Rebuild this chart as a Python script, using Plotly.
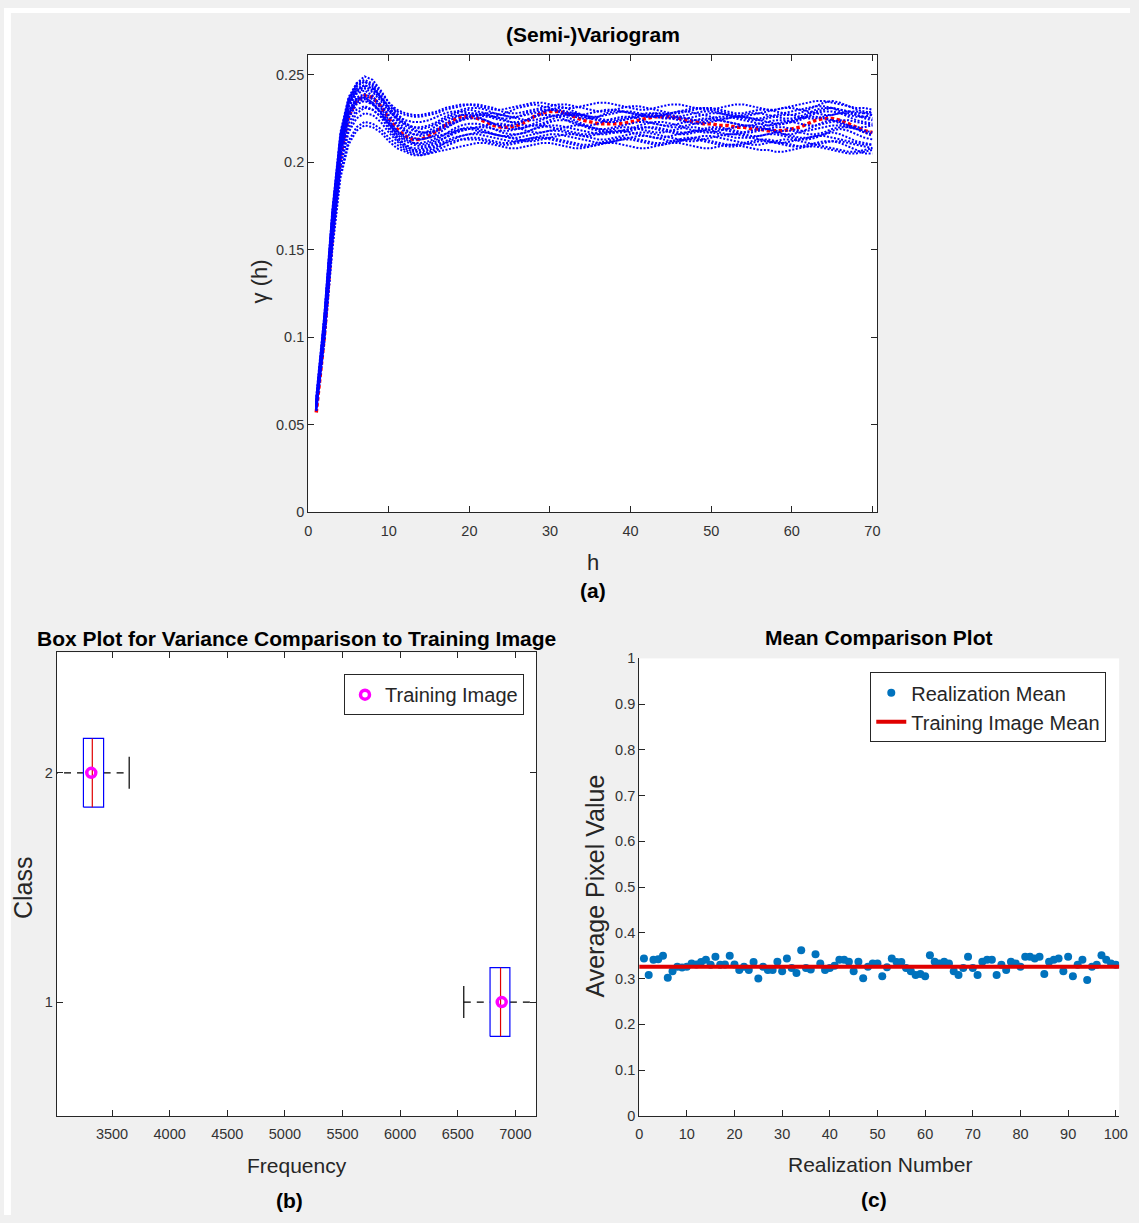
import plotly.graph_objects as go

W, H = 1139, 1223
FONT = "Liberation Sans, Arial, sans-serif"

# ---------------- (a) variogram data ----------------
lag_h = list(range(1, 71))
ti_gamma = [0.057, 0.100, 0.158, 0.203, 0.226, 0.235, 0.238, 0.237, 0.232,
            0.225, 0.219, 0.215, 0.213, 0.213, 0.215, 0.218, 0.221, 0.224, 0.226, 0.226,
            0.225, 0.223, 0.221, 0.220, 0.220, 0.221, 0.223, 0.226, 0.228, 0.229,
            0.229, 0.228, 0.226, 0.224, 0.223, 0.222, 0.222, 0.222, 0.222, 0.223,
            0.224, 0.225, 0.226, 0.226, 0.226, 0.225, 0.224, 0.223, 0.222, 0.222,
            0.221, 0.221, 0.220, 0.220, 0.219, 0.219, 0.218, 0.218, 0.218, 0.219,
            0.220, 0.222, 0.224, 0.225, 0.225, 0.224, 0.222, 0.220, 0.218, 0.217]

real_a = [0.062, 0.108, 0.168, 0.212, 0.232, 0.240, 0.242, 0.240, 0.235,
          0.229, 0.225, 0.222, 0.220, 0.220, 0.221, 0.223, 0.226, 0.228, 0.230, 0.231,
          0.231, 0.230, 0.228, 0.227, 0.226, 0.226, 0.227, 0.228, 0.229, 0.230,
          0.230, 0.229, 0.228, 0.227, 0.226, 0.226, 0.227, 0.228, 0.229, 0.229,
          0.228, 0.227, 0.226, 0.225, 0.225, 0.226, 0.227, 0.228, 0.229, 0.229,
          0.228, 0.227, 0.226, 0.226, 0.227, 0.228, 0.229, 0.230, 0.231, 0.231,
          0.230, 0.229, 0.228, 0.227, 0.227, 0.228, 0.229, 0.229, 0.228, 0.227]
real_b = [0.060, 0.104, 0.163, 0.207, 0.228, 0.236, 0.238, 0.236, 0.231,
          0.224, 0.218, 0.214, 0.211, 0.210, 0.211, 0.213, 0.216, 0.219, 0.221, 0.222,
          0.222, 0.221, 0.219, 0.217, 0.216, 0.216, 0.217, 0.219, 0.221, 0.223,
          0.224, 0.224, 0.223, 0.221, 0.219, 0.218, 0.217, 0.217, 0.218, 0.219,
          0.221, 0.222, 0.223, 0.223, 0.222, 0.221, 0.219, 0.218, 0.217, 0.217,
          0.218, 0.219, 0.220, 0.221, 0.221, 0.220, 0.219, 0.217, 0.216, 0.216,
          0.217, 0.219, 0.221, 0.223, 0.224, 0.223, 0.221, 0.219, 0.217, 0.216]
real_c = [0.065, 0.112, 0.172, 0.216, 0.236, 0.244, 0.246, 0.243, 0.237,
          0.232, 0.229, 0.227, 0.226, 0.226, 0.227, 0.228, 0.230, 0.231, 0.232, 0.233,
          0.233, 0.232, 0.231, 0.229, 0.228, 0.228, 0.229, 0.230, 0.231, 0.232,
          0.233, 0.233, 0.232, 0.231, 0.230, 0.229, 0.229, 0.230, 0.231, 0.232,
          0.232, 0.231, 0.230, 0.229, 0.228, 0.228, 0.229, 0.230, 0.231, 0.231,
          0.230, 0.229, 0.228, 0.228, 0.229, 0.230, 0.230, 0.229, 0.228, 0.227,
          0.228, 0.230, 0.232, 0.234, 0.235, 0.234, 0.232, 0.230, 0.229, 0.228]
real_d = [0.059, 0.101, 0.158, 0.201, 0.222, 0.230, 0.232, 0.230, 0.226,
          0.222, 0.215, 0.210, 0.207, 0.205, 0.206, 0.208, 0.211, 0.213, 0.215, 0.216,
          0.216, 0.215, 0.214, 0.213, 0.212, 0.212, 0.213, 0.214, 0.215, 0.216,
          0.216, 0.215, 0.214, 0.213, 0.212, 0.211, 0.211, 0.212, 0.213, 0.214,
          0.215, 0.215, 0.214, 0.213, 0.212, 0.212, 0.213, 0.214, 0.215, 0.215,
          0.214, 0.213, 0.212, 0.211, 0.210, 0.210, 0.211, 0.212, 0.213, 0.213,
          0.212, 0.211, 0.210, 0.209, 0.208, 0.207, 0.206, 0.206, 0.207, 0.208]
real_e = [0.063, 0.110, 0.170, 0.214, 0.234, 0.242, 0.244, 0.242, 0.238,
          0.230, 0.224, 0.219, 0.216, 0.215, 0.216, 0.218, 0.221, 0.223, 0.225, 0.226,
          0.227, 0.227, 0.226, 0.225, 0.223, 0.222, 0.221, 0.221, 0.222, 0.224,
          0.226, 0.227, 0.227, 0.226, 0.225, 0.224, 0.223, 0.223, 0.224, 0.225,
          0.226, 0.227, 0.227, 0.226, 0.225, 0.224, 0.223, 0.222, 0.222, 0.223,
          0.224, 0.225, 0.226, 0.226, 0.225, 0.224, 0.223, 0.222, 0.222, 0.223,
          0.224, 0.226, 0.228, 0.229, 0.229, 0.228, 0.226, 0.224, 0.223, 0.222]
real_f = [0.061, 0.106, 0.165, 0.209, 0.229, 0.236, 0.237, 0.234, 0.228,
          0.222, 0.216, 0.212, 0.210, 0.209, 0.210, 0.212, 0.214, 0.216, 0.218, 0.219,
          0.220, 0.220, 0.219, 0.218, 0.218, 0.219, 0.220, 0.221, 0.221, 0.220,
          0.219, 0.218, 0.217, 0.216, 0.216, 0.217, 0.218, 0.219, 0.220, 0.220,
          0.219, 0.218, 0.217, 0.217, 0.218, 0.219, 0.220, 0.220, 0.219, 0.218,
          0.217, 0.216, 0.216, 0.217, 0.218, 0.219, 0.219, 0.218, 0.216, 0.215,
          0.214, 0.214, 0.215, 0.216, 0.217, 0.216, 0.214, 0.212, 0.211, 0.210]
real_g = [0.064, 0.111, 0.171, 0.215, 0.235, 0.245, 0.249, 0.247, 0.241,
          0.234, 0.228, 0.223, 0.219, 0.217, 0.217, 0.219, 0.222, 0.225, 0.227, 0.228,
          0.228, 0.227, 0.225, 0.224, 0.223, 0.223, 0.224, 0.226, 0.228, 0.230,
          0.231, 0.231, 0.229, 0.227, 0.225, 0.224, 0.223, 0.223, 0.224, 0.225,
          0.226, 0.227, 0.228, 0.228, 0.227, 0.226, 0.225, 0.224, 0.224, 0.225,
          0.226, 0.226, 0.225, 0.224, 0.223, 0.222, 0.221, 0.221, 0.222, 0.223,
          0.225, 0.227, 0.229, 0.230, 0.231, 0.230, 0.229, 0.227, 0.225, 0.224]
real_h = [0.058, 0.098, 0.152, 0.194, 0.212, 0.220, 0.223, 0.222, 0.219,
          0.214, 0.210, 0.207, 0.205, 0.204, 0.205, 0.207, 0.209, 0.211, 0.213, 0.214,
          0.214, 0.213, 0.212, 0.211, 0.211, 0.212, 0.213, 0.214, 0.214, 0.213,
          0.212, 0.211, 0.210, 0.209, 0.209, 0.210, 0.211, 0.212, 0.213, 0.213,
          0.212, 0.211, 0.210, 0.210, 0.211, 0.212, 0.213, 0.213, 0.212, 0.211,
          0.210, 0.209, 0.209, 0.210, 0.211, 0.212, 0.212, 0.211, 0.210, 0.209,
          0.209, 0.210, 0.211, 0.212, 0.212, 0.211, 0.209, 0.207, 0.205, 0.205]
real_i = [0.062, 0.107, 0.166, 0.210, 0.231, 0.239, 0.241, 0.238, 0.232,
          0.226, 0.221, 0.217, 0.214, 0.213, 0.214, 0.216, 0.219, 0.222, 0.224, 0.225,
          0.225, 0.224, 0.222, 0.220, 0.219, 0.219, 0.220, 0.222, 0.224, 0.226,
          0.227, 0.226, 0.224, 0.222, 0.220, 0.219, 0.219, 0.220, 0.221, 0.222,
          0.223, 0.223, 0.222, 0.221, 0.220, 0.220, 0.221, 0.222, 0.223, 0.224,
          0.224, 0.223, 0.222, 0.221, 0.220, 0.220, 0.221, 0.222, 0.223, 0.224,
          0.225, 0.226, 0.226, 0.225, 0.224, 0.222, 0.221, 0.220, 0.220, 0.221]
real_j = [0.060, 0.103, 0.161, 0.205, 0.226, 0.234, 0.236, 0.233, 0.228,
          0.220, 0.214, 0.210, 0.208, 0.208, 0.209, 0.211, 0.214, 0.217, 0.219, 0.220,
          0.219, 0.218, 0.216, 0.215, 0.214, 0.214, 0.215, 0.216, 0.217, 0.218,
          0.218, 0.217, 0.216, 0.215, 0.215, 0.216, 0.217, 0.218, 0.218, 0.217,
          0.216, 0.215, 0.214, 0.214, 0.215, 0.216, 0.217, 0.218, 0.218, 0.217,
          0.216, 0.215, 0.214, 0.214, 0.214, 0.215, 0.216, 0.216, 0.215, 0.214,
          0.213, 0.213, 0.214, 0.216, 0.218, 0.219, 0.218, 0.216, 0.214, 0.213]
real_k = [0.063, 0.109, 0.169, 0.213, 0.233, 0.241, 0.243, 0.241, 0.236,
          0.231, 0.227, 0.224, 0.223, 0.223, 0.224, 0.226, 0.228, 0.229, 0.229, 0.228,
          0.227, 0.226, 0.226, 0.227, 0.229, 0.231, 0.232, 0.233, 0.232, 0.231,
          0.229, 0.228, 0.227, 0.227, 0.228, 0.229, 0.230, 0.230, 0.229, 0.228,
          0.227, 0.226, 0.226, 0.227, 0.228, 0.229, 0.230, 0.231, 0.231, 0.230,
          0.229, 0.228, 0.227, 0.226, 0.225, 0.225, 0.226, 0.227, 0.228, 0.229,
          0.230, 0.231, 0.232, 0.232, 0.231, 0.230, 0.229, 0.228, 0.228, 0.229]
real_l = [0.059, 0.100, 0.156, 0.199, 0.219, 0.228, 0.231, 0.230, 0.226,
          0.219, 0.213, 0.209, 0.207, 0.207, 0.208, 0.210, 0.212, 0.214, 0.215, 0.216,
          0.217, 0.217, 0.216, 0.215, 0.214, 0.213, 0.212, 0.212, 0.213, 0.214,
          0.215, 0.216, 0.216, 0.215, 0.214, 0.213, 0.213, 0.214, 0.215, 0.216,
          0.217, 0.217, 0.216, 0.215, 0.214, 0.213, 0.212, 0.212, 0.213, 0.214,
          0.215, 0.216, 0.216, 0.215, 0.214, 0.213, 0.212, 0.211, 0.211, 0.212,
          0.213, 0.214, 0.215, 0.215, 0.214, 0.213, 0.212, 0.211, 0.210, 0.210]
real_m = [0.061, 0.105, 0.164, 0.208, 0.229, 0.237, 0.239, 0.237, 0.233,
          0.227, 0.222, 0.218, 0.216, 0.216, 0.218, 0.221, 0.224, 0.226, 0.227, 0.227,
          0.226, 0.224, 0.222, 0.221, 0.221, 0.222, 0.224, 0.226, 0.227, 0.227,
          0.226, 0.224, 0.222, 0.221, 0.221, 0.222, 0.224, 0.225, 0.226, 0.226,
          0.225, 0.223, 0.222, 0.221, 0.221, 0.222, 0.223, 0.224, 0.225, 0.225,
          0.224, 0.223, 0.222, 0.221, 0.221, 0.222, 0.223, 0.224, 0.224, 0.223,
          0.222, 0.221, 0.221, 0.222, 0.223, 0.224, 0.224, 0.223, 0.222, 0.221]
real_n = [0.060, 0.103, 0.160, 0.204, 0.225, 0.233, 0.235, 0.233, 0.229,
          0.223, 0.218, 0.215, 0.213, 0.213, 0.214, 0.215, 0.216, 0.217, 0.218, 0.219,
          0.220, 0.221, 0.222, 0.222, 0.221, 0.220, 0.218, 0.217, 0.217, 0.218,
          0.219, 0.220, 0.221, 0.221, 0.220, 0.219, 0.218, 0.217, 0.217, 0.218,
          0.219, 0.220, 0.220, 0.219, 0.218, 0.217, 0.217, 0.218, 0.219, 0.220,
          0.220, 0.219, 0.218, 0.217, 0.217, 0.218, 0.219, 0.220, 0.220, 0.219,
          0.218, 0.218, 0.219, 0.220, 0.221, 0.221, 0.220, 0.219, 0.218, 0.217]
real_o = [0.066, 0.113, 0.173, 0.217, 0.237, 0.245, 0.247, 0.245, 0.240,
          0.234, 0.230, 0.228, 0.227, 0.227, 0.228, 0.229, 0.231, 0.232, 0.233, 0.233,
          0.232, 0.231, 0.230, 0.230, 0.231, 0.232, 0.233, 0.234, 0.234, 0.233,
          0.232, 0.231, 0.231, 0.232, 0.233, 0.234, 0.234, 0.233, 0.232, 0.231,
          0.230, 0.230, 0.231, 0.232, 0.233, 0.233, 0.232, 0.231, 0.230, 0.230,
          0.231, 0.232, 0.233, 0.233, 0.232, 0.231, 0.230, 0.230, 0.231, 0.232,
          0.233, 0.234, 0.235, 0.235, 0.234, 0.233, 0.232, 0.231, 0.231, 0.230]
real_p = [0.058, 0.097, 0.150, 0.191, 0.210, 0.218, 0.221, 0.220, 0.217,
          0.212, 0.208, 0.206, 0.204, 0.204, 0.205, 0.206, 0.207, 0.208, 0.209, 0.210,
          0.211, 0.211, 0.210, 0.209, 0.208, 0.208, 0.209, 0.210, 0.211, 0.211,
          0.210, 0.209, 0.208, 0.208, 0.209, 0.210, 0.211, 0.211, 0.210, 0.209,
          0.208, 0.208, 0.209, 0.210, 0.211, 0.211, 0.210, 0.209, 0.208, 0.208,
          0.209, 0.210, 0.210, 0.209, 0.208, 0.207, 0.207, 0.206, 0.206, 0.207,
          0.208, 0.209, 0.209, 0.208, 0.207, 0.206, 0.205, 0.205, 0.206, 0.207]
real_q = [0.062, 0.108, 0.167, 0.211, 0.232, 0.241, 0.244, 0.242, 0.237,
          0.230, 0.225, 0.221, 0.218, 0.217, 0.217, 0.218, 0.220, 0.222, 0.224, 0.226,
          0.227, 0.228, 0.228, 0.227, 0.226, 0.225, 0.224, 0.224, 0.225, 0.226,
          0.227, 0.228, 0.228, 0.227, 0.226, 0.225, 0.224, 0.224, 0.225, 0.226,
          0.227, 0.228, 0.228, 0.227, 0.226, 0.225, 0.225, 0.226, 0.227, 0.228,
          0.228, 0.227, 0.226, 0.225, 0.224, 0.224, 0.225, 0.226, 0.227, 0.227,
          0.226, 0.225, 0.225, 0.226, 0.227, 0.228, 0.228, 0.227, 0.226, 0.225]
real_r = [0.061, 0.104, 0.162, 0.206, 0.227, 0.235, 0.237, 0.234, 0.229,
          0.222, 0.217, 0.213, 0.211, 0.211, 0.212, 0.214, 0.216, 0.218, 0.219, 0.219,
          0.218, 0.217, 0.216, 0.215, 0.215, 0.216, 0.217, 0.219, 0.220, 0.221,
          0.221, 0.220, 0.219, 0.218, 0.217, 0.216, 0.216, 0.217, 0.218, 0.219,
          0.220, 0.220, 0.219, 0.218, 0.217, 0.216, 0.216, 0.217, 0.218, 0.219,
          0.219, 0.218, 0.217, 0.216, 0.215, 0.215, 0.216, 0.217, 0.218, 0.218,
          0.217, 0.216, 0.216, 0.217, 0.219, 0.220, 0.220, 0.219, 0.217, 0.215]
real_s = [0.064, 0.110, 0.170, 0.214, 0.234, 0.243, 0.246, 0.244, 0.238,
          0.231, 0.226, 0.222, 0.220, 0.219, 0.220, 0.222, 0.225, 0.227, 0.229, 0.230,
          0.229, 0.228, 0.226, 0.225, 0.225, 0.226, 0.228, 0.229, 0.230, 0.230,
          0.229, 0.227, 0.226, 0.225, 0.225, 0.226, 0.228, 0.229, 0.229, 0.228,
          0.227, 0.226, 0.226, 0.227, 0.228, 0.229, 0.229, 0.228, 0.227, 0.226,
          0.225, 0.225, 0.226, 0.227, 0.228, 0.228, 0.227, 0.226, 0.225, 0.225,
          0.226, 0.228, 0.230, 0.231, 0.231, 0.229, 0.227, 0.226, 0.226, 0.227]
real_t = [0.059, 0.100, 0.155, 0.197, 0.217, 0.225, 0.228, 0.227, 0.223,
          0.217, 0.212, 0.208, 0.206, 0.206, 0.207, 0.209, 0.211, 0.212, 0.213, 0.213,
          0.213, 0.212, 0.211, 0.210, 0.210, 0.211, 0.212, 0.213, 0.214, 0.214,
          0.213, 0.212, 0.211, 0.210, 0.210, 0.211, 0.212, 0.213, 0.214, 0.214,
          0.213, 0.212, 0.211, 0.211, 0.212, 0.213, 0.214, 0.214, 0.213, 0.212,
          0.211, 0.210, 0.210, 0.211, 0.212, 0.213, 0.213, 0.212, 0.211, 0.210,
          0.209, 0.209, 0.210, 0.211, 0.212, 0.212, 0.211, 0.210, 0.209, 0.208]
realizations = [real_a, real_b, real_c, real_d, real_e, real_f, real_g, real_h, real_i, real_j,
                real_k, real_l, real_m, real_n, real_o, real_p, real_q, real_r, real_s, real_t]

# ---------------- (b) box plot data ----------------
box_class = [1, 2]
box_whisker_lo = [6552, 2971]
box_q1 = [6780, 3252]
box_median = [6871, 3329]
box_q3 = [6952, 3427]
box_whisker_hi = [7230, 3649]
ti_frequency = [6881, 3320]

# ---------------- (c) mean comparison data ----------------
realization_number = list(range(1, 101))
realization_mean = [0.344, 0.308, 0.341, 0.342, 0.350, 0.302, 0.316, 0.326, 0.324, 0.326,
                    0.333, 0.331, 0.336, 0.341, 0.330, 0.348, 0.330, 0.331, 0.350, 0.331,
                    0.319, 0.326, 0.319, 0.336, 0.300, 0.326, 0.319, 0.319, 0.337, 0.316,
                    0.344, 0.323, 0.312, 0.362, 0.323, 0.320, 0.353, 0.333, 0.319, 0.323,
                    0.328, 0.341, 0.341, 0.337, 0.316, 0.337, 0.301, 0.326, 0.333, 0.333,
                    0.305, 0.325, 0.344, 0.336, 0.336, 0.323, 0.316, 0.308, 0.310, 0.305,
                    0.351, 0.337, 0.333, 0.337, 0.333, 0.316, 0.308, 0.323, 0.348, 0.323,
                    0.308, 0.337, 0.341, 0.341, 0.308, 0.330, 0.319, 0.337, 0.333, 0.326,
                    0.348, 0.348, 0.344, 0.348, 0.310, 0.337, 0.341, 0.344, 0.316, 0.348,
                    0.305, 0.330, 0.341, 0.297, 0.326, 0.330, 0.351, 0.341, 0.333, 0.330]
ti_mean = 0.326
ti_mean_x = [0, 101]

# tick labels
a_xticks = [0, 10, 20, 30, 40, 50, 60, 70]
a_yticks = [0, 0.05, 0.1, 0.15, 0.2, 0.25]
a_yticktext = ["0", "0.05", "0.1", "0.15", "0.2", "0.25"]
b_xticks = [3500, 4000, 4500, 5000, 5500, 6000, 6500, 7000]
b_yticks = [1, 2]
c_xticks = [0, 10, 20, 30, 40, 50, 60, 70, 80, 90, 100]
c_yticks = [0, 0.1, 0.2, 0.3, 0.4, 0.5, 0.6, 0.7, 0.8, 0.9, 1]
c_yticktext = ["0", "0.1", "0.2", "0.3", "0.4", "0.5", "0.6", "0.7", "0.8", "0.9", "1"]

for r in realizations:
    assert len(r) == len(lag_h)
assert len(ti_gamma) == len(lag_h)
assert len(realization_mean) == len(realization_number)


def px(x):
    return x / W


def py(y):
    return 1 - y / H


fig = go.Figure()

# (a) training image (red dotted, underneath) and realizations (blue dotted)
fig.add_trace(go.Scatter(x=lag_h, y=ti_gamma, mode="lines",
                         line=dict(color="#ff0000", width=3.5, dash="3.5px,2.5px"),
                         showlegend=False, xaxis="x", yaxis="y"))
for r in realizations:
    fig.add_trace(go.Scatter(x=lag_h, y=r, mode="lines",
                             line=dict(color="#0000ff", width=2, dash="2px,1.6px"),
                             showlegend=False, xaxis="x", yaxis="y"))

# (b) box plot drawn from the statistics
BW = 0.15
CW = 0.07
for i, c in enumerate(box_class):
    lo, q1, md, q3, hi = box_whisker_lo[i], box_q1[i], box_median[i], box_q3[i], box_whisker_hi[i]
    fig.add_trace(go.Scatter(x=[lo, q1, None, q3, hi], y=[c, c, None, c, c], mode="lines",
                             line=dict(color="black", width=1.2, dash="7px,6px"),
                             showlegend=False, xaxis="x2", yaxis="y2"))
    fig.add_trace(go.Scatter(x=[lo, lo, None, hi, hi], y=[c - CW, c + CW, None, c - CW, c + CW],
                             mode="lines", line=dict(color="black", width=1.2),
                             showlegend=False, xaxis="x2", yaxis="y2"))
    fig.add_trace(go.Scatter(x=[q1, q3, q3, q1, q1], y=[c - BW, c - BW, c + BW, c + BW, c - BW],
                             mode="lines", line=dict(color="#0000ff", width=1.2),
                             showlegend=False, xaxis="x2", yaxis="y2"))
    fig.add_trace(go.Scatter(x=[md, md], y=[c - BW, c + BW], mode="lines",
                             line=dict(color="#e00000", width=1.2),
                             showlegend=False, xaxis="x2", yaxis="y2"))
fig.add_trace(go.Scatter(x=ti_frequency, y=box_class, mode="markers", name="Training Image",
                         marker=dict(symbol="circle-open", color="#ff00ff", size=9,
                                     line=dict(color="#ff00ff", width=3.5)),
                         legend="legend", xaxis="x2", yaxis="y2"))

# (c) mean comparison
fig.add_trace(go.Scatter(x=realization_number, y=realization_mean, mode="markers",
                         name="Realization Mean",
                         marker=dict(color="#0072BD", size=8),
                         legend="legend2", xaxis="x3", yaxis="y3"))
fig.add_trace(go.Scatter(x=ti_mean_x, y=[ti_mean, ti_mean], mode="lines",
                         name="Training Image Mean",
                         line=dict(color="#e00000", width=4),
                         legend="legend2", xaxis="x3", yaxis="y3"))

AX = "#262626"
TICKF = dict(family=FONT, size=14.5, color="#333333")
common = dict(showline=True, linecolor=AX, linewidth=1, ticks="inside", ticklen=6,
              tickcolor=AX, showgrid=False, zeroline=False, tickfont=TICKF)

fig.update_layout(
    width=W, height=H,
    margin=dict(l=0, r=0, t=0, b=0),
    paper_bgcolor="#f0f0f0",
    plot_bgcolor="white",
    font=dict(family=FONT, color="#262626"),
    xaxis=dict(domain=[px(307.7), px(883.3)], range=[0, 70.6], anchor="y",
               tickvals=a_xticks, mirror="allticks", ticklabelstandoff=5, **common),
    yaxis=dict(domain=[py(511), py(47.3)], range=[0, 0.2614], anchor="x",
               tickvals=a_yticks, ticktext=a_yticktext, mirror="allticks", **common),
    xaxis2=dict(domain=[px(53.3), px(538.3)], range=[3020, 7180], anchor="y2",
                tickvals=b_xticks, mirror="allticks", ticklabelstandoff=5, **common),
    yaxis2=dict(domain=[py(1122.7), py(653)], range=[0.503, 2.525], anchor="x2",
                tickvals=b_yticks, mirror="allticks", **common),
    xaxis3=dict(domain=[px(642.5), px(1128)], range=[0, 100.7], anchor="y3",
                tickvals=c_xticks, ticklabelstandoff=5, **common),
    yaxis3=dict(domain=[py(1122.5), py(659)], range=[0, 1], anchor="x3",
                tickvals=c_yticks, ticktext=c_yticktext, **common),
    legend=dict(x=px(526), y=py(675), xanchor="right", yanchor="top",
                bgcolor="white", bordercolor=AX, borderwidth=1,
                font=dict(family=FONT, size=20, color="#262626")),
    legend2=dict(x=px(1115), y=py(673), xanchor="right", yanchor="top",
                 bgcolor="white", bordercolor=AX, borderwidth=1,
                 font=dict(family=FONT, size=20, color="#262626")),
)

# white outer border strips (top and left edges of the reference picture)
fig.add_shape(type="rect", xref="paper", yref="paper", x0=0, x1=px(7), y0=0, y1=1,
              fillcolor="white", line_width=0, layer="below")
fig.add_shape(type="rect", xref="paper", yref="paper", x0=0, x1=1, y0=py(5), y1=1,
              fillcolor="white", line_width=0, layer="below")


def ann(text, x, y, size, bold=False, angle=0, color="#262626"):
    fig.add_annotation(text=f"<b>{text}</b>" if bold else text, x=px(x), y=py(y),
                       xref="paper", yref="paper", xanchor="center", yanchor="middle",
                       showarrow=False, textangle=angle,
                       font=dict(family=FONT, size=size, color=color))


ann("(Semi-)Variogram", 596, 27, 21, bold=True, color="black")
ann("h", 596, 562, 22)
ann("(a)", 596, 590, 21, bold=True, color="black")
ann("γ (h)", 258, 277, 22, angle=-90)

ann("Box Plot for Variance Comparison to Training Image", 296, 639, 21, bold=True, color="black")
ann("Class", 20, 891, 25, angle=-90)
ann("Frequency", 296, 1173, 21)
ann("(b)", 289, 1208, 21, bold=True, color="black")

ann("Mean Comparison Plot", 885, 638, 21, bold=True, color="black")
ann("Average Pixel Value", 598, 890, 25, angle=-90)
ann("Realization Number", 886, 1172, 21)
ann("(c)", 880, 1207, 21, bold=True, color="black")

fig.write_html("out.html")
